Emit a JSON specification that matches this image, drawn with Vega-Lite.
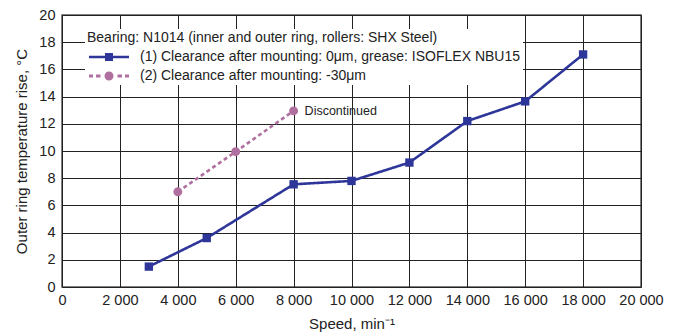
{
  "$schema": "https://vega.github.io/schema/vega-lite/v6.json",
  "width": 579,
  "height": 272,
  "autosize": "none",
  "padding": {"left": 62, "top": 15, "right": 39, "bottom": 49},
  "config": {
    "font": "Liberation Sans",
    "locale": {"number": {"decimal": ".", "thousands": " ", "grouping": [3], "currency": ["", ""]}},
    "view": {"stroke": "#555", "strokeWidth": 1.5},
    "axis": {"domain": false, "ticks": false, "grid": true, "gridColor": "#222", "gridWidth": 1, "gridOpacity": 1, "labelFontSize": 14.5, "labelColor": "#222", "labelOverlap": false, "labelFlush": false, "titleFontSize": 15, "titleFontWeight": "normal", "titleColor": "#222"},
    "legend": {
      "orient": "none", "legendX": 23, "legendY": 14,
      "fillColor": "white", "padding": 2,
      "titleFontSize": 14, "titleFontWeight": "normal", "titleColor": "#222", "titlePadding": 5, "titleLimit": 600,
      "labelFontSize": 14, "labelColor": "#222", "labelOffset": 39, "rowPadding": 5,
      "symbolSize": 100, "labelLimit": 600
    }
  },
  "datasets": {
    "pts": [
      {"series": "(1) Clearance after mounting: 0μm, grease: ISOFLEX NBU15", "speed": 3000, "rise": 1.5},
      {"series": "(1) Clearance after mounting: 0μm, grease: ISOFLEX NBU15", "speed": 5000, "rise": 3.6},
      {"series": "(1) Clearance after mounting: 0μm, grease: ISOFLEX NBU15", "speed": 8000, "rise": 7.55},
      {"series": "(1) Clearance after mounting: 0μm, grease: ISOFLEX NBU15", "speed": 10000, "rise": 7.8},
      {"series": "(1) Clearance after mounting: 0μm, grease: ISOFLEX NBU15", "speed": 12000, "rise": 9.15},
      {"series": "(1) Clearance after mounting: 0μm, grease: ISOFLEX NBU15", "speed": 14000, "rise": 12.2},
      {"series": "(1) Clearance after mounting: 0μm, grease: ISOFLEX NBU15", "speed": 16000, "rise": 13.65},
      {"series": "(1) Clearance after mounting: 0μm, grease: ISOFLEX NBU15", "speed": 18000, "rise": 17.1},
      {"series": "(2) Clearance after mounting: -30μm", "speed": 4000, "rise": 7.0},
      {"series": "(2) Clearance after mounting: -30μm", "speed": 6000, "rise": 9.95},
      {"series": "(2) Clearance after mounting: -30μm", "speed": 8000, "rise": 12.95, "note": "Discontinued"}
    ]
  },
  "data": {"name": "pts"},
  "encoding": {
    "x": {"field": "speed", "type": "quantitative", "scale": {"domain": [0, 20000], "nice": false}, "axis": {"values": [0, 2000, 4000, 6000, 8000, 10000, 12000, 14000, 16000, 18000, 20000], "format": ",d", "labelPadding": 6, "title": "Speed, min⁻¹", "titlePadding": 10}},
    "y": {"field": "rise", "type": "quantitative", "scale": {"domain": [0, 20], "nice": false}, "axis": {"values": [0, 2, 4, 6, 8, 10, 12, 14, 16, 18, 20], "labelPadding": 7, "title": "Outer ring temperature rise, °C", "titlePadding": 9}}
  },
  "layer": [
    {
      "mark": {"type": "line", "strokeWidth": 2.6},
      "encoding": {
        "color": {"field": "series", "type": "nominal", "scale": {"range": ["#2e3799", "#b0709f"]}, "legend": {
          "title": "Bearing: N1014 (inner and outer ring, rollers: SHX Steel)",
          "encode": {"symbols": {"update": {
            "shape": {"signal": "indexof(datum.value, '(1)') == 0 ? 'M-1,-0.26H7V0.26H-1Z M2.2,-0.8H3.8V0.8H2.2Z' : 'M-1,-0.3H-0.2V0.3H-1Z M0.4,-0.3H1.3V0.3H0.4Z M2.1,0A0.9,0.9 0 1,0 3.9,0A0.9,0.9 0 1,0 2.1,0Z M4.7,-0.3H5.6V0.3H4.7Z M6.2,-0.3H7V0.3H6.2Z'"},
            "fill": {"scale": "color", "field": "value"},
            "stroke": {"value": "transparent"},
            "strokeWidth": {"value": 0},
            "strokeDash": {"value": [1, 0]},
            "opacity": {"value": 1}
          }}}
        }},
        "strokeDash": {"field": "series", "type": "nominal", "scale": {"range": [[1, 0], [4, 3]]}, "legend": null}
      }
    },
    {
      "mark": {"type": "point", "filled": true, "opacity": 1},
      "encoding": {
        "color": {"field": "series", "type": "nominal", "legend": {
          "title": "Bearing: N1014 (inner and outer ring, rollers: SHX Steel)",
          "encode": {"symbols": {"update": {
            "shape": {"signal": "indexof(datum.value, '(1)') == 0 ? 'M-1,-0.26H7V0.26H-1Z M2.2,-0.8H3.8V0.8H2.2Z' : 'M-1,-0.3H-0.2V0.3H-1Z M0.4,-0.3H1.3V0.3H0.4Z M2.1,0A0.9,0.9 0 1,0 3.9,0A0.9,0.9 0 1,0 2.1,0Z M4.7,-0.3H5.6V0.3H4.7Z M6.2,-0.3H7V0.3H6.2Z'"},
            "fill": {"scale": "color", "field": "value"},
            "stroke": {"value": "transparent"},
            "strokeWidth": {"value": 0},
            "opacity": {"value": 1}
          }}}
        }},
        "shape": {"field": "series", "type": "nominal", "scale": {"range": ["square", "circle"]}, "legend": null},
        "size": {"field": "series", "type": "nominal", "scale": {"range": [70, 80]}, "legend": null}
      }
    },
    {
      "transform": [{"filter": "datum.note != null"}],
      "mark": {"type": "text", "align": "left", "baseline": "middle", "dx": 11, "fontSize": 12.5, "color": "#222"},
      "encoding": {"text": {"field": "note"}}
    }
  ]
}
